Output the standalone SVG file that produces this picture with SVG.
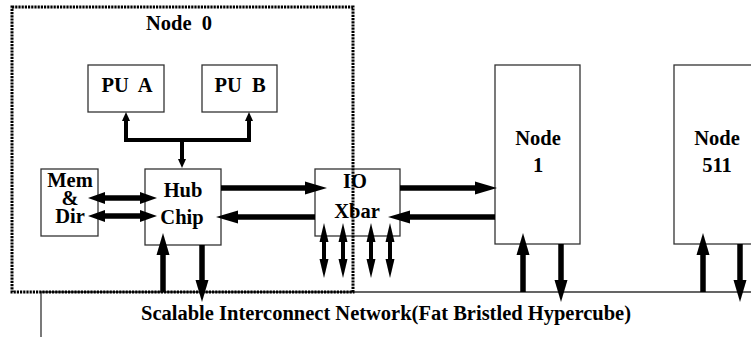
<svg xmlns="http://www.w3.org/2000/svg" width="751" height="337" viewBox="0 0 751 337">
<style>
.box{fill:none;stroke:#333;stroke-width:1.3}
.t{font-family:"Liberation Serif","Times New Roman",serif;font-weight:bold;font-size:20.5px;fill:#000;text-anchor:middle}
.a5{stroke:#000;stroke-width:5.5;fill:none}
.a4{stroke:#000;stroke-width:4;fill:none}
.net{stroke:#333;stroke-width:1.3;fill:none}
.dot{fill:none;stroke:#000;stroke-width:3;stroke-dasharray:2.2 1}
</style>
<defs>
<marker id="hb" markerUnits="userSpaceOnUse" viewBox="0 -6.5 22 13" markerWidth="22" markerHeight="13" refX="0" refY="0" orient="auto-start-reverse" overflow="visible"><path d="M0,-6.5 L22,0 L0,6.5 Z" fill="#000"/></marker>
<marker id="hm" markerUnits="userSpaceOnUse" viewBox="0 -6 17 12" markerWidth="17" markerHeight="12" refX="0" refY="0" orient="auto-start-reverse" overflow="visible"><path d="M0,-6 L17,0 L0,6 Z" fill="#000"/></marker>
<marker id="hs" markerUnits="userSpaceOnUse" viewBox="0 -4.5 19 9" markerWidth="19" markerHeight="9" refX="0" refY="0" orient="auto-start-reverse" overflow="visible"><path d="M0,-4.5 L19,0 L0,4.5 Z" fill="#000"/></marker>
<marker id="ht" markerUnits="userSpaceOnUse" viewBox="0 -4 9 8" markerWidth="9" markerHeight="8" refX="0" refY="0" orient="auto-start-reverse" overflow="visible"><path d="M0,-4 L9,0 L0,4 Z" fill="#000"/></marker>
</defs>
<rect width="751" height="337" fill="#fff"/>

<g id="network">
<path class="net" d="M41,292 H751 M41,292 V337"/>
<text class="t" x="386" y="320">Scalable Interconnect Network(Fat Bristled Hypercube)</text>
</g>

<g id="pu-a">
<rect class="box" x="88" y="65" width="76" height="47"/>
<text class="t" x="127" y="92" xml:space="preserve">PU  A</text>
</g>
<g id="pu-b">
<rect class="box" x="202" y="65" width="75" height="47"/>
<text class="t" x="240" y="92" xml:space="preserve">PU  B</text>
</g>
<g id="mem-dir">
<rect class="box" x="41" y="169" width="57" height="67"/>
<text class="t" x="70" y="187"><tspan x="70" y="187">Mem</tspan><tspan x="70" y="205">&amp;</tspan><tspan x="70" y="223">Dir</tspan></text>
</g>
<g id="hub-chip">
<rect class="box" x="145" y="169" width="76" height="76"/>
<text class="t" x="183" y="197"><tspan x="183" y="197">Hub</tspan><tspan x="182" y="224">Chip</tspan></text>
</g>
<g id="io-xbar">
<rect class="box" x="315" y="169" width="85" height="67"/>
<text class="t" x="355" y="188"><tspan x="355" y="188">IO</tspan><tspan x="357" y="218">Xbar</tspan></text>
</g>
<g id="node1">
<rect class="box" x="495" y="65" width="85" height="179"/>
<text class="t" x="538" y="145"><tspan x="538" y="145">Node</tspan><tspan x="538" y="172">1</tspan></text>
</g>
<g id="node511">
<rect class="box" x="674" y="65" width="90" height="179"/>
<text class="t" x="717" y="145"><tspan x="717" y="145">Node</tspan><tspan x="717" y="172">511</tspan></text>
</g>

<g id="node0">
<rect class="dot" x="12" y="7" width="341" height="285"/>
<text class="t" x="179" y="30" xml:space="preserve">Node  0</text>
</g>

<g id="connectors">
<path class="a4" d="M126,121 V140 H249 V121" marker-start="url(#ht)" marker-end="url(#ht)"/>
<path class="a4" d="M182,140 V159" marker-end="url(#ht)"/>
<path class="a5" d="M105,198 H140" marker-start="url(#hm)" marker-end="url(#hm)"/>
<path class="a5" d="M105,216 H140" marker-start="url(#hm)" marker-end="url(#hm)"/>
<path class="a5" d="M221,188 H305" marker-end="url(#hb)"/>
<path class="a5" d="M315,217 H238" marker-end="url(#hb)"/>
<path class="a5" d="M400,188 H475" marker-end="url(#hb)"/>
<path class="a5" d="M495,217 H410" marker-end="url(#hb)"/>
<path class="a5" d="M163,292 V255" marker-end="url(#hb)"/>
<path class="a5" d="M202,245 V280" marker-end="url(#hb)"/>
<path class="a5" d="M523,292 V255" marker-end="url(#hb)"/>
<path class="a5" d="M561,244 V280" marker-end="url(#hb)"/>
<path class="a5" d="M703,292 V255" marker-end="url(#hb)"/>
<path class="a5" d="M740,244 V280" marker-end="url(#hb)"/>
<path class="a4" d="M324,242 V259" marker-start="url(#hs)" marker-end="url(#hs)"/>
<path class="a4" d="M343,242 V259" marker-start="url(#hs)" marker-end="url(#hs)"/>
<path class="a4" d="M371,242 V259" marker-start="url(#hs)" marker-end="url(#hs)"/>
<path class="a4" d="M390,242 V259" marker-start="url(#hs)" marker-end="url(#hs)"/>
</g>
</svg>
